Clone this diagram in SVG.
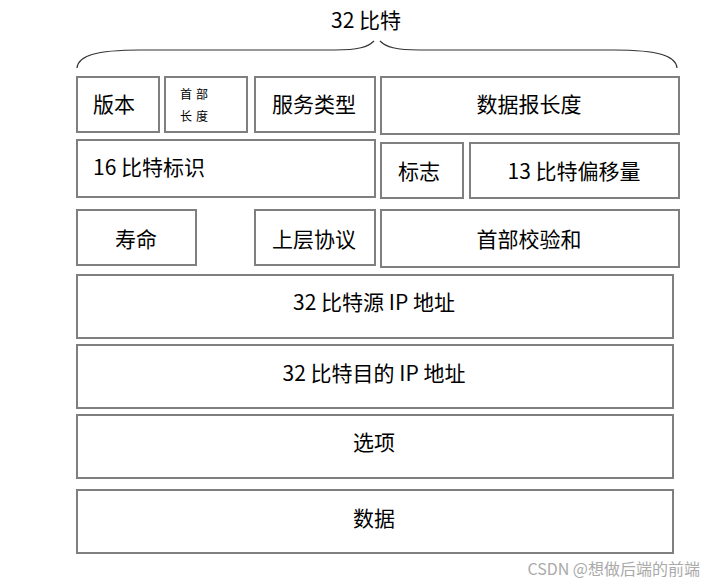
<svg xmlns="http://www.w3.org/2000/svg" width="714" height="586" viewBox="0 0 714 586">
<style>
.b{fill:#fff;stroke:#7f7f7f;stroke-width:2}
.t{font-family:"Noto Sans CJK SC","Liberation Sans",sans-serif;font-size:21px;fill:#000;text-anchor:middle;dominant-baseline:central}
.t.l{text-anchor:start}
.s{font-family:"Noto Sans CJK SC","Liberation Sans",sans-serif;font-size:12px;fill:#000;letter-spacing:4px}
.br{fill:none;stroke:#333;stroke-width:1.2}
</style>
<rect width="714" height="586" fill="#fff"/>
<g id="header">
<text class="t" x="366" y="19">32 比特</text>
<path class="br" d="M77,68 C78,56 95,50 140,50 L335,50 C358,50 368,47 374,41"/>
<path class="br" d="M380,41 C386,47 396,50 419,50 L614,50 C659,50 676,56 677,68"/>
</g>
<g id="version"><rect class="b" x="77" y="77" width="82" height="55"/><text class="t" x="114" y="103">版本</text></g>
<g id="hlen"><rect class="b" x="165" y="77" width="82" height="55"/><text class="s" x="180" y="99">首部</text><text class="s" x="180" y="121">长度</text></g>
<g id="tos"><rect class="b" x="255" y="77" width="120" height="55"/><text class="t" x="314" y="103">服务类型</text></g>
<g id="totlen"><rect class="b" x="381" y="77" width="298" height="57"/><text class="t" x="529" y="103">数据报长度</text></g>
<g id="ident"><rect class="b" x="77" y="140" width="298" height="57"/><text class="t l" x="93" y="166">16 比特标识</text></g>
<g id="flags"><rect class="b" x="381" y="143" width="82" height="55"/><text class="t" x="419" y="170">标志</text></g>
<g id="offset"><rect class="b" x="470" y="143" width="209" height="55"/><text class="t" x="574" y="170">13 比特偏移量</text></g>
<g id="ttl"><rect class="b" x="77" y="210" width="119" height="55"/><text class="t" x="136" y="238">寿命</text></g>
<g id="proto"><rect class="b" x="255" y="210" width="120" height="55"/><text class="t" x="314" y="238">上层协议</text></g>
<g id="checksum"><rect class="b" x="381" y="210" width="298" height="57"/><text class="t" x="529" y="238">首部校验和</text></g>
<g id="src"><rect class="b" x="77" y="275" width="596" height="63"/><text class="t" x="374" y="301">32 比特源 IP 地址</text></g>
<g id="dst"><rect class="b" x="77" y="345" width="596" height="63"/><text class="t" x="374" y="372">32 比特目的 IP 地址</text></g>
<g id="options"><rect class="b" x="77" y="415" width="596" height="63"/><text class="t" x="374" y="441">选项</text></g>
<g id="data"><rect class="b" x="77" y="490" width="596" height="63"/><text class="t" x="374" y="517">数据</text></g>
<g id="connectors"></g>
<text x="700" y="568" font-family="'Noto Sans CJK SC','Liberation Sans',sans-serif" font-size="16" fill="#aaa" text-anchor="end" dominant-baseline="central">CSDN @想做后端的前端</text>
</svg>
